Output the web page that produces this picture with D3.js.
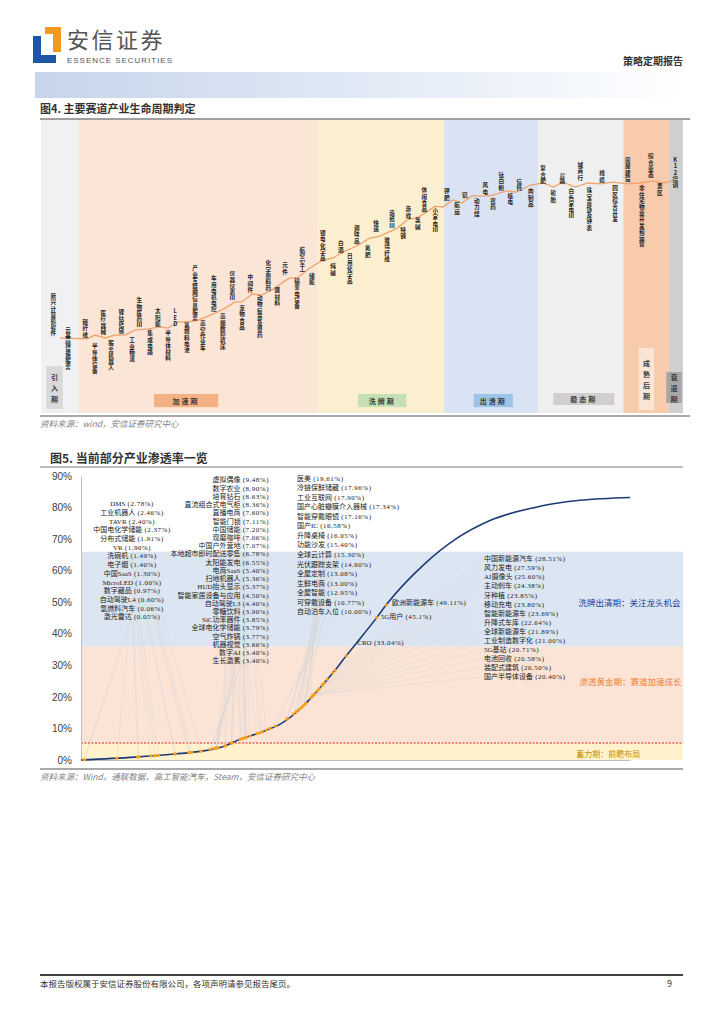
<!DOCTYPE html>
<html><head><meta charset="utf-8">
<script src="https://cdn.jsdelivr.net/npm/d3@7"></script>
<style>
body{margin:0;background:#fff;}
svg{display:block;font-family:"Noto Sans CJK SC","Noto Sans",sans-serif;}
</style>
</head><body>
<svg id="c" width="724" height="1024"></svg>
<script>
// ================= DATA: Figure 4 (life cycle) =================
const stageNames = ["引入期","加速期","洗牌期","出清期","稳态期","成熟后期","衰退期"];
const stageBounds = [0, 5.8, 43.1, 62.8, 77.4, 90.7, 97.8, 100];
const lifeCurveU = [3.0,7.2,8.4,10.0,11.5,13.1,14.6,16.7,18.5,19.8,21.3,22.9,24.5,27.1,28.7,30.2,31.3,32.9,34.4,36.0,38.0,38.8,39.9,41.9,43.9,45.5,47.0,49.2,51.2,52.8,55.5,57.2,58.6,60.1,61.4,62.6,64.2,65.6,67.1,69.9,72.6,74.1,76.2,78.2,79.8,81.3,83.2,85.2,87.1,89.1,91.3,93.3,95.3,96.9,98.4];
const lifeCurveV = [25.6,25.3,26.6,25.6,26.6,26.6,28.3,28.7,29.4,29.0,31.1,31.1,31.7,34.1,35.8,37.9,37.9,40.6,40.3,42.0,45.1,46.1,46.1,49.5,52.2,52.9,54.9,57.0,59.7,60.4,63.1,66.2,66.6,68.6,70.6,70.3,72.7,71.7,74.1,74.1,75.8,75.4,77.8,78.5,77.1,78.8,77.1,78.5,78.2,78.8,78.2,78.5,79.2,78.5,79.2];
const industryNames4 = ["新兴计算机软件","云基础设施服务","碳纤维","半导体设备","医疗器械","服务机器人","锂钴锆锑","工业物流","生物医药Ⅲ","集成电路","太阳能","半导体材料","LED","氢燃料电池","产业互联网信息服务","高空作业车","车用电机电控","高端数控机床","仪器仪表Ⅲ","宠物食品","中间件","动物疫苗及兽药","化学原料药","膜材料","元件","航空军工","输变电设备","储能","锂电化学品","纯碱","白酒","日用化学品","调味品","氮肥","快递","玻璃纤维","造纸Ⅲ","特钢","游戏","氯碱","休闲食品","小家电Ⅲ","钾肥","航运","铝","动力煤","风电","农药","钛白粉","核电","信托","肉制品","复合肥","轮胎","公路","白色家电Ⅲ","城商行","珠宝首饰及钟表","线缆","园区综合开发","房屋建设","非住宅物业开发和运营","综合业态","景区","K12培训"];
const industryU4 = [1.9,4.2,6.9,8.4,9.7,10.9,12.5,14.2,15.3,17.0,18.2,19.8,20.9,22.7,24.0,25.2,26.9,28.3,29.8,31.3,32.6,34.1,35.4,36.8,38.0,40.7,39.9,42.2,43.9,45.5,46.7,48.1,49.2,50.9,52.2,53.9,54.7,56.4,57.2,58.7,59.7,61.4,63.2,64.8,66.0,67.9,69.2,70.4,71.7,73.1,74.5,76.3,78.2,79.8,81.2,82.6,84.0,85.4,87.4,89.4,91.4,93.6,95.0,96.4,98.8];
const industryV4 = [41.0,29.4,32.1,23.9,35.2,24.9,35.5,25.9,39.6,28.3,35.8,28.3,35.8,31.1,50.5,31.7,47.1,34.1,48.8,36.9,47.4,40.3,52.2,43.0,51.5,56.7,46.1,47.8,62.5,51.2,59.0,54.6,64.2,57.3,65.9,60.1,69.3,63.5,70.6,66.9,77.1,70.0,76.8,72.0,75.4,73.4,78.8,73.4,82.3,75.1,79.9,76.8,84.6,76.1,82.3,76.8,85.7,77.1,82.9,77.8,87.4,77.8,88.7,78.5,87.4];

// ================= DATA: Figure 5 (penetration) =================
const yTicks5 = [0,10,20,30,40,50,60,70,80,90];
const sCurveX = [0,9.8,17.1,22.0,26.2,28.6,33.0,36.6,40.3,43.2,46.3,48.3,53.9,55.7,62.3,68.5,74.5,83.6,90.9,100];
const sCurveY = [0,0.9,1.9,2.8,4.4,6.3,8.9,11.7,16.8,22.2,28.5,33.0,45.2,49.4,61.7,70.3,75.9,80.4,82.3,83.2];
const phaseNames = ["蓄力期：前瞻布局","渗透黄金期：赛道加速成长","洗牌出清期：关注龙头机会"];
const phaseFrom = [0,5.4,36];
const phaseTo = [5.4,36,66];

const leftNames = ["DMS","工业机器人","TAVR","中国电化学储能","分布式储能","VR","洗碗机","电子烟","中国SaaS","MicroLED","数字藏品","自动驾驶L4","氢燃料汽车","激光雷达"];
const leftValues = [2.78,2.46,2.40,2.37,1.91,1.90,1.49,1.40,1.30,1.00,0.97,0.60,0.06,0.05];
const midNames = ["虚拟偶像","数字农业","培育钻石","直流组合式电气柜","直播电商","智能门锁","中国储能","现磨咖啡","中国户外营地","本地超市即时配送零售","太阳能发电","电商SaaS","扫地机器人","HUD抬头显示","智能家居设备与应用","自动驾驶L3","零糖饮料","SiC功率器件","全球电化学储能","空气炸锅","机器视觉","数字AI","生长激素"];
const midValues = [9.48,8.90,8.63,8.36,7.60,7.11,7.20,7.06,7.07,6.78,6.55,5.40,5.36,5.37,4.50,4.40,3.90,3.85,3.79,3.77,3.66,3.40,3.40];
const rmNames = ["医美","冷链保鲜储藏","工业互联网","国产心脏瓣膜介入器械","智能穿戴眼镜","国产IC","升降桌椅","功能沙发","全球云计算","光伏跟踪支架","全屋定制","生鲜电商","全屋智能","可穿戴设备","自动泊车入位"];
const rmValues = [19.61,17.96,17.90,17.34,17.16,16.58,16.05,15.40,15.30,14.60,13.08,13.00,12.95,10.77,10.00];
const rightNames = ["中国新能源汽车","风力发电","AI摄像头","主动刹车","牙种植","移动充电","智能新能源车","升降式车库","全球新能源车","工业制造数字化","5G基站","电池回收","装配式建筑","国产半导体设备"];
const rightValues = [28.51,27.59,25.60,24.38,23.85,23.80,23.69,22.64,21.89,21.00,20.71,20.58,20.50,20.40];
const calloutNames = ["欧洲新能源车","5G用户","CRO"];
const calloutValues = [49.11,45.1,33.04];
const calloutDecimals = [2,1,2];

// ================= DRAW =================
const svg = d3.select("#c");
const LABEL_FONT = '"Liberation Serif","Noto Sans CJK SC",serif';

function vText(parent, str, x, yTop, size, step, attrs) {
  const t = parent.append("text").attr("font-size", size).attr("text-anchor","middle");
  Object.entries(attrs||{}).forEach(([k,v])=>t.attr(k,v));
  Array.from(str).forEach((ch,k)=>{
    t.append("tspan").attr("x", x).attr("y", yTop + (k+1)*step - step*0.14).text(ch);
  });
  return t;
}
function labelText(parent, x, y, anchor, name, valStr) {
  const t = parent.append("text").attr("x",x).attr("y",y).attr("text-anchor",anchor)
    .attr("dominant-baseline","central").attr("font-size",7).attr("fill","#1a1a1a")
    .attr("font-family",LABEL_FONT);
  t.append("tspan").text(name);
  t.append("tspan").attr("letter-spacing",0.5).text(` (${valStr}%)`);
  return t;
}

// ---- header ----
const defs = svg.append("defs");
const g1 = defs.append("linearGradient").attr("id","hdr").attr("x1","0").attr("x2","1");
g1.append("stop").attr("offset","0").attr("stop-color","#c6d5eb");
g1.append("stop").attr("offset","0.55").attr("stop-color","#e3ebf6");
g1.append("stop").attr("offset","1").attr("stop-color","#ffffff");

svg.append("path").attr("d","M45,27 H61 V52 H53 V34 H45 Z").attr("fill","#f39a1e");
svg.append("path").attr("d","M33,36 H41 V55 H56 V63 H33 Z").attr("fill","#1d58a6");
svg.append("text").attr("x",67).attr("y",48).attr("font-size",22).attr("fill","#555")
  .attr("letter-spacing",2.5).text("安信证券");
svg.append("text").attr("x",67).attr("y",63).attr("font-size",8).attr("fill","#555")
  .attr("font-family","Liberation Sans Narrow, Liberation Sans, sans-serif")
  .attr("textLength",105).text("ESSENCE SECURITIES");
svg.append("text").attr("x",683).attr("y",65).attr("text-anchor","end").attr("font-size",10)
  .attr("font-weight",700).attr("fill","#333").text("策略定期报告");
svg.append("rect").attr("x",35).attr("y",72).attr("width",655).attr("height",26).attr("fill","url(#hdr)");

// ---- figure 4 ----
svg.append("text").attr("x",40).attr("y",113).attr("font-size",11).attr("font-weight",600)
  .attr("fill","#333").text("图4. 主要赛道产业生命周期判定");
svg.append("line").attr("x1",40).attr("x2",690).attr("y1",119).attr("y2",119)
  .attr("stroke","#7f7f7f").attr("stroke-width",1.5);

const x4 = d3.scaleLinear().domain([0,100]).range([41,683]);
const y4 = d3.scaleLinear().domain([0,100]).range([413,120]);
const stageColors = ["#f1f1f3","#fbe5d6","#fcefd0","#dae3f3","#efefef","#f8cbad","#d0cece"];
const stageBoxColors = ["#d9d9d9","#f4b183","#c5e0b4","#9dc3e6","#d0cece","#fbe5d6","#a6a6a6"];
const stageBoxes = [[0.8,3.4,1.4,16.0],[17.6,27.6,2.0,6.5],[49.4,56.9,2.0,6.5],[67.4,73.5,2.0,6.5],[79.8,89.3,2.7,6.8],[93.1,95.5,1.0,22.2],[97.4,99.8,3.4,14.0]];
const stageVertical = [true,false,false,false,false,true,true];

svg.append("g").selectAll("rect").data(stageNames).join("rect")
  .attr("x",(d,i)=>x4(stageBounds[i])).attr("width",(d,i)=>x4(stageBounds[i+1])-x4(stageBounds[i]))
  .attr("y",y4(100)).attr("height",y4(0)-y4(100)).attr("fill",(d,i)=>stageColors[i]);

const sb = svg.append("g");
stageNames.forEach((name,i)=>{
  const b = stageBoxes[i];
  const bx0 = x4(b[0]), bx1 = x4(b[1]), by0 = y4(b[3]), by1 = y4(b[2]);
  sb.append("rect").attr("x",bx0).attr("y",by0).attr("width",bx1-bx0).attr("height",by1-by0).attr("fill",stageBoxColors[i]);
  if (stageVertical[i]) {
    const n = Array.from(name).length, step = 11;
    vText(sb, name, (bx0+bx1)/2, (by0+by1)/2 - n*step/2, 7, step, {"font-weight":700, fill:"#3a3a3a"});
  } else {
    sb.append("text").attr("font-size",7).attr("font-weight",700).attr("fill","#3a3a3a")
      .attr("text-anchor","middle").attr("x",(bx0+bx1)/2).attr("y",(by0+by1)/2)
      .attr("dominant-baseline","central").attr("letter-spacing",2).text(name);
  }
});

svg.append("path").datum(lifeCurveU.map((u,i)=>[u,lifeCurveV[i]]))
  .attr("d",d3.line().x(d=>x4(d[0])).y(d=>y4(d[1])))
  .attr("fill","none").attr("stroke","#f2a26b").attr("stroke-width",1.3);

const lab4 = svg.append("g");
industryNames4.forEach((n,i)=>{
  vText(lab4, n, x4(industryU4[i]), y4(industryV4[i]), 5.6, 6.2, {fill:"#1e1e1e", "font-weight":600});
});

svg.append("line").attr("x1",40).attr("x2",690).attr("y1",416).attr("y2",416)
  .attr("stroke","#8c8c8c").attr("stroke-width",1.5);
svg.append("text").attr("x",40).attr("y",427).attr("font-size",8.5).attr("font-style","italic")
  .attr("fill","#7f7f7f").text("资料来源：wind，安信证券研究中心");

// ---- figure 5 ----
svg.append("text").attr("x",50).attr("y",463).attr("font-size",12).attr("font-weight",600)
  .attr("fill","#333").text("图5. 当前部分产业渗透率一览");
svg.append("line").attr("x1",40).attr("x2",683).attr("y1",467).attr("y2",467)
  .attr("stroke","#7f7f7f").attr("stroke-width",1.2);

const x5 = d3.scaleLinear().domain([0,100]).range([81,630]);
const y5 = d3.scaleLinear().domain([0,90]).range([760,476]);
const bandEnd = 109.7;
const phaseColors = ["#fff2cc","#fbe4d6","#dce6f2"];
const phaseTextColors = ["#bf9000","#ed7d31","#2340a0"];
const phaseTextPos = [[90.2,2.2],[90.8,25.0],[90.6,50.0]];
const phaseFontSize = [8,8.5,8.5];

svg.append("g").selectAll("rect").data(phaseNames).join("rect")
  .attr("x",x5(0)).attr("width",x5(bandEnd)-x5(0))
  .attr("y",(d,i)=>y5(phaseTo[i])).attr("height",(d,i)=>y5(phaseFrom[i])-y5(phaseTo[i]))
  .attr("fill",(d,i)=>phaseColors[i]);

svg.append("line").attr("x1",x5(0)).attr("x2",x5(bandEnd)).attr("y1",y5(phaseTo[0])).attr("y2",y5(phaseTo[0]))
  .attr("stroke","#d02020").attr("stroke-width",1.1).attr("stroke-dasharray","2,1.5");

const yAxis = d3.axisLeft(y5).tickValues(yTicks5).tickFormat(d=>d+"%").tickSize(0).tickPadding(9);
const ya = svg.append("g").attr("transform",`translate(${x5(0)},0)`).call(yAxis);
ya.select(".domain").attr("stroke","#bfbfbf");
ya.selectAll("text").attr("font-size",10).attr("fill","#404040").attr("font-family","Liberation Sans, Arial, sans-serif");
const xAxis = d3.axisBottom(x5).tickValues([]).tickSize(0);
const xa = svg.append("g").attr("transform",`translate(0,${y5(0)})`).call(xAxis);
xa.select(".domain").attr("stroke","#bfbfbf");

const xOfValue = d3.scaleLinear().domain(sCurveY).range(sCurveX);
const linesG = svg.append("g");
const curveG = svg.append("g");
const dotsG = svg.append("g");
const labelsG = svg.append("g");

curveG.append("path").datum(sCurveX.map((x,i)=>[x,sCurveY[i]]))
  .attr("d",d3.line().x(d=>x5(d[0])).y(d=>y5(d[1])).curve(d3.curveMonotoneX))
  .attr("fill","none").attr("stroke","#1f3a78").attr("stroke-width",1.6);

const groups = [
  {names:leftNames, values:leftValues, x:132, anchor:"middle", y0:81.0, step:2.75, link:"bottom"},
  {names:midNames, values:midValues, x:269, anchor:"end", y0:88.6, step:2.605, link:"bottom"},
  {names:rmNames, values:rmValues, x:297, anchor:"start", y0:89.2, step:3.03, link:"bottom"},
  {names:rightNames, values:rightValues, x:484, anchor:"start", y0:63.6, step:2.87, link:"left"}
];
const allVals = [];
groups.forEach(g=>{
  g.names.forEach((n,i)=>{
    const v = g.values[i];
    allVals.push(v);
    const t = labelText(labelsG, g.x, y5(g.y0 - i*g.step), g.anchor, n, v.toFixed(2));
    const bb = t.node().getBBox();
    const px = x5(xOfValue(v)), py = y5(v);
    let lx, ly;
    if (g.link==="left") { lx = bb.x - 1; ly = bb.y + bb.height/2; }
    else { lx = bb.x + bb.width/2; ly = bb.y + bb.height - 1; }
    linesG.append("line").attr("x1",px).attr("y1",py).attr("x2",lx).attr("y2",ly)
      .attr("stroke","#d4d4d4").attr("stroke-width",0.5).attr("opacity",0.75);
  });
});
const calloutOffsets = [[6,-2],[4,-1],[11,-13]];
calloutNames.forEach((n,i)=>{
  const v = calloutValues[i];
  allVals.push(v);
  const px = x5(xOfValue(v)), py = y5(v);
  labelText(labelsG, px+calloutOffsets[i][0], py+calloutOffsets[i][1], "start", n, v.toFixed(calloutDecimals[i]));
});
dotsG.selectAll("circle").data(allVals).join("circle")
  .attr("cx",d=>x5(xOfValue(d))).attr("cy",d=>y5(d)).attr("r",1.6).attr("fill","#f5a31a");

svg.append("g").selectAll("text").data(phaseNames).join("text")
  .attr("x",(d,i)=>x5(phaseTextPos[i][0])).attr("y",(d,i)=>y5(phaseTextPos[i][1]))
  .attr("dominant-baseline","central").attr("font-size",(d,i)=>phaseFontSize[i])
  .attr("fill",(d,i)=>phaseTextColors[i]).text(d=>d);

svg.append("line").attr("x1",40).attr("x2",683).attr("y1",769).attr("y2",769)
  .attr("stroke","#8c8c8c").attr("stroke-width",1.5);
svg.append("text").attr("x",40).attr("y",780).attr("font-size",8.5).attr("font-style","italic")
  .attr("fill","#7f7f7f").text("资料来源：Wind，通联数据，高工智能汽车，Steam，安信证券研究中心");

// ---- footer ----
svg.append("line").attr("x1",40).attr("x2",683).attr("y1",975).attr("y2",975)
  .attr("stroke","#404040").attr("stroke-width",2);
svg.append("text").attr("x",40).attr("y",987).attr("font-size",8.5).attr("fill","#333")
  .text("本报告版权属于安信证券股份有限公司，各项声明请参见报告尾页。");
svg.append("text").attr("x",672).attr("y",987).attr("text-anchor","end").attr("font-size",9).attr("fill","#333").text("9");
</script>
</body></html>
